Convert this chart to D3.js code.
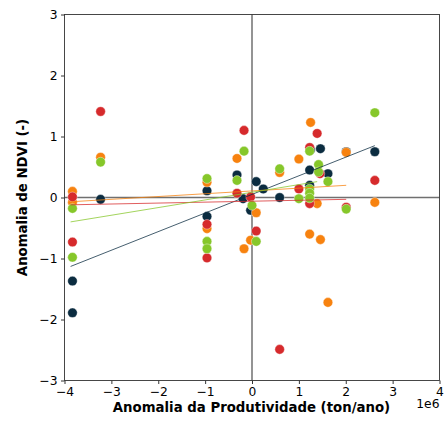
<!DOCTYPE html>
<html><head><meta charset="utf-8">
<script src="https://cdn.jsdelivr.net/npm/d3@7"></script>
<style>body{margin:0;background:#fff}svg{display:block;font-family:"DejaVu Sans",sans-serif}</style>
</head><body><svg id="c" width="444" height="425"></svg>
<script>
// x values in units of 1e6 ton/ano
const navyX = [-3.83,-3.83,-3.23,-0.96,-0.96,-0.32,-0.19,-0.03,0.09,0.24,0.59,1.23,1.23,1.25,1.46,1.62,2.01,2.62];
const navyY = [-1.37,-1.89,-0.03,0.11,-0.31,0.37,-0.02,-0.21,0.26,0.14,0.0,0.45,0.2,0.78,0.80,0.39,0.75,0.75];
const orangeX = [-3.83,-3.83,-3.23,-0.96,-0.96,-0.32,0.09,-0.03,-0.17,0.59,1.0,1.25,1.23,1.39,1.46,1.62,2.01,2.62];
const orangeY = [0.10,-0.08,0.66,0.25,-0.51,0.64,-0.25,-0.70,-0.84,0.41,0.63,1.23,-0.60,-0.10,-0.69,-1.72,0.74,-0.08];
const redX = [-3.83,-3.83,-3.23,-0.96,-0.96,-0.32,-0.17,-0.03,0.09,0.59,1.0,1.23,1.23,1.39,1.45,2.01,2.62];
const redY = [0.01,-0.73,1.41,-0.44,-0.99,0.07,1.10,0.01,-0.55,-2.49,0.14,0.82,-0.10,1.05,0.39,-0.16,0.28];
const greenX = [-3.83,-3.83,-3.23,-0.96,-0.96,-0.96,-0.32,-0.17,0.0,0.09,0.59,1.0,1.23,1.23,1.23,1.23,1.42,1.42,1.62,2.01,2.62];
const greenY = [-0.18,-0.98,0.58,0.31,-0.72,-0.84,0.28,0.76,-0.13,-0.72,0.47,-0.02,0.76,0.14,0.07,-0.01,0.54,0.42,0.26,-0.19,1.39];
// regression line endpoints [x0, y0, x1, y1]
const navyFit = [-3.87,-1.13,2.62,0.85];
const orangeFit = [-3.87,-0.07,2.01,0.20];
const redFit = [-3.87,-0.12,2.01,-0.03];
const greenFit = [-3.87,-0.40,1.39,0.26];
const xTicks = [-4,-3,-2,-1,0,1,2,3,4];
const yTicks = [-3,-2,-1,0,1,2,3];
const colors = {navy:"#0b2c40", orange:"#f7820f", red:"#d62a2c", green:"#86c72a"};

const svg = d3.select("#c");
const L=64.5, R=439.5, T=14.5, B=380.5;
const x = d3.scaleLinear().domain([-4,4]).range([L,R]);
const y = d3.scaleLinear().domain([-3,3]).range([B,T]);
const fmt = d => d<0 ? "\u2212"+Math.abs(d) : String(d);

// zero lines
svg.append("line").attr("x1",L).attr("x2",R).attr("y1",y(0)).attr("y2",y(0)).attr("stroke","#707070").attr("stroke-width",1.5);
svg.append("line").attr("y1",T).attr("y2",B).attr("x1",x(0)).attr("x2",x(0)).attr("stroke","#707070").attr("stroke-width",1.5);

const series = [
  {c:colors.navy, xs:navyX, ys:navyY},
  {c:colors.orange, xs:orangeX, ys:orangeY},
  {c:colors.red, xs:redX, ys:redY},
  {c:colors.green, xs:greenX, ys:greenY}
];
series.forEach(s=>{
  svg.append("g").selectAll("circle").data(s.xs.map((v,i)=>[v,s.ys[i]])).join("circle")
    .attr("cx",d=>x(d[0])).attr("cy",d=>y(d[1])).attr("r",4.8)
    .attr("fill",s.c).attr("stroke","#fff").attr("stroke-width",0.4);
});
const fits = [[navyFit,colors.navy],[orangeFit,colors.orange],[redFit,colors.red],[greenFit,colors.green]];
fits.forEach(([f,c])=>{
  svg.append("line").attr("x1",x(f[0])).attr("y1",y(f[1])).attr("x2",x(f[2])).attr("y2",y(f[3]))
    .attr("stroke",c).attr("stroke-width",0.9).attr("stroke-opacity",0.85);
});

// axes
const xa = svg.append("g").attr("transform",`translate(0,${B})`)
  .call(d3.axisBottom(x).tickValues(xTicks).tickFormat(fmt).tickSize(3.5).tickPadding(3.5));
const ya = svg.append("g").attr("transform",`translate(${L},0)`)
  .call(d3.axisLeft(y).tickValues(yTicks).tickFormat(fmt).tickSize(3.5).tickPadding(3.5));
[xa,ya].forEach(a=>{
  a.select(".domain").remove();
  a.selectAll("line").attr("stroke","#000").attr("stroke-width",0.8);
  a.selectAll("text").attr("font-size",12.3).attr("fill","#000").attr("font-family","DejaVu Sans");
});
svg.append("rect").attr("x",L).attr("y",T).attr("width",R-L).attr("height",B-T)
  .attr("fill","none").attr("stroke","#333").attr("stroke-width",0.9);

svg.append("text").attr("x",(L+R)/2 - 0.5).attr("y",412).attr("text-anchor","middle")
  .attr("font-size",13.3).attr("font-weight","bold").text("Anomalia da Produtividade (ton/ano)");
svg.append("text").attr("x",R).attr("y",408).attr("text-anchor","end")
  .attr("font-size",12.3).text("1e6");
svg.append("text").attr("transform",`translate(27,${(T+B)/2}) rotate(-90)`).attr("text-anchor","middle")
  .attr("font-size",13.3).attr("font-weight","bold").text("Anomalia de NDVI (-)");
</script></body></html>
